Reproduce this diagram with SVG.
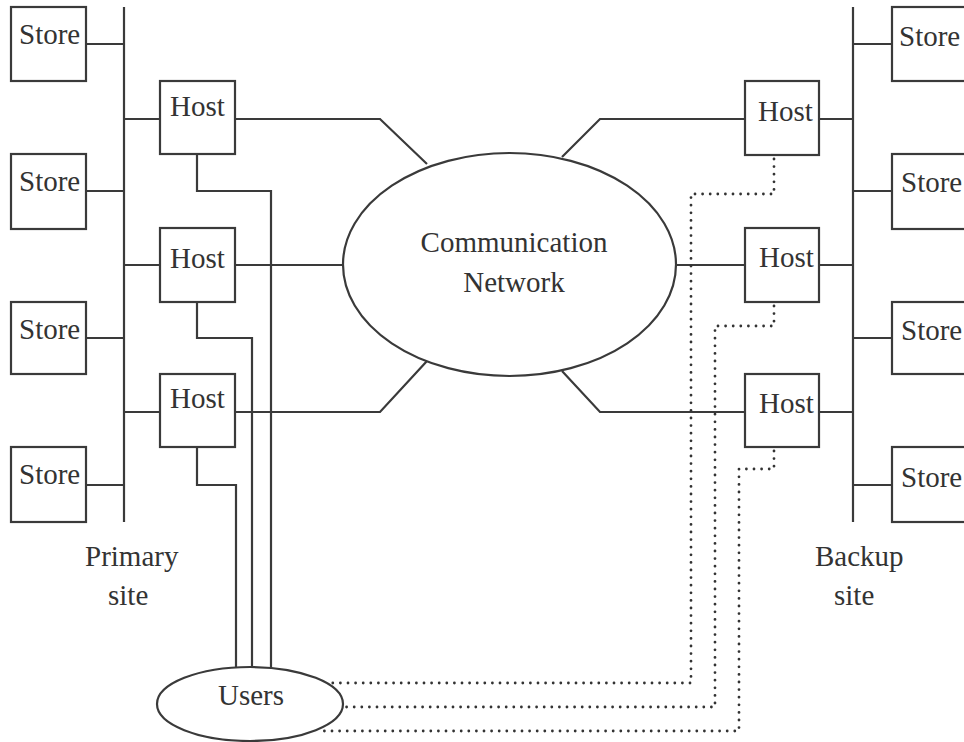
<svg xmlns="http://www.w3.org/2000/svg" width="964" height="742" viewBox="0 0 964 742">
<style>
.box{fill:none;stroke:#3a3a3a;stroke-width:2.2}
.ln{fill:none;stroke:#3a3a3a;stroke-width:2.2}
.dot{fill:none;stroke:#333;stroke-width:2.8;stroke-dasharray:0 7.6;stroke-linecap:round}
text{font-family:"Liberation Serif","Times New Roman",serif;font-size:29px;fill:#333}
</style>
<rect width="964" height="742" fill="#fff"/>
<g id="connectors">
<line class="ln" x1="124" y1="7" x2="124" y2="522"/>
<line class="ln" x1="853" y1="7" x2="853" y2="522"/>
<line class="ln" x1="86" y1="44" x2="124" y2="44"/>
<line class="ln" x1="86" y1="191" x2="124" y2="191"/>
<line class="ln" x1="86" y1="338" x2="124" y2="338"/>
<line class="ln" x1="86" y1="485" x2="124" y2="485"/>
<line class="ln" x1="124" y1="119" x2="160" y2="119"/>
<line class="ln" x1="124" y1="265" x2="160" y2="265"/>
<line class="ln" x1="124" y1="412" x2="160" y2="412"/>
<line class="ln" x1="853" y1="44" x2="892" y2="44"/>
<line class="ln" x1="853" y1="191" x2="892" y2="191"/>
<line class="ln" x1="853" y1="338" x2="892" y2="338"/>
<line class="ln" x1="853" y1="485" x2="892" y2="485"/>
<line class="ln" x1="819" y1="119" x2="853" y2="119"/>
<line class="ln" x1="819" y1="265" x2="853" y2="265"/>
<line class="ln" x1="819" y1="412" x2="853" y2="412"/>
<polyline class="ln" points="235,119 380,119 427,164"/>
<line class="ln" x1="235" y1="265" x2="343" y2="265"/>
<polyline class="ln" points="235,412 380,412 427,361"/>
<polyline class="ln" points="745,119 600,119 562,157"/>
<line class="ln" x1="676" y1="265" x2="745" y2="265"/>
<polyline class="ln" points="745,412 600,412 562,371"/>
<polyline class="ln" points="197,154 197,191 271,191 271,668"/>
<polyline class="ln" points="197,302 197,338 252,338 252,667"/>
<polyline class="ln" points="197,447 197,485 236,485 236,668"/>
<polyline class="dot" points="774,159 774,194 691,194 691,683 327,683"/>
<polyline class="dot" points="774,306 774,326 715,326 715,707 343,707"/>
<polyline class="dot" points="774,451 774,469 739,469 739,731 318,731"/>
</g>
<g id="network">
<ellipse class="box" cx="509.5" cy="264.5" rx="166.5" ry="111.5"/>
<text x="514" y="252" text-anchor="middle">Communication</text>
<text x="514" y="292" text-anchor="middle">Network</text>
</g>
<g id="users">
<ellipse class="box" cx="250" cy="704" rx="93" ry="37"/>
<text x="251" y="705" text-anchor="middle">Users</text>
</g>
<g id="store-p1"><rect class="box" x="11" y="7" width="75" height="74"/><text x="19" y="44">Store</text></g>
<g id="store-p2"><rect class="box" x="11" y="154" width="75" height="75"/><text x="19" y="191">Store</text></g>
<g id="store-p3"><rect class="box" x="11" y="302" width="75" height="72"/><text x="19" y="339">Store</text></g>
<g id="store-p4"><rect class="box" x="11" y="447" width="75" height="75"/><text x="19" y="484">Store</text></g>
<g id="host-p1"><rect class="box" x="160" y="81" width="75" height="73"/><text x="170" y="116">Host</text></g>
<g id="host-p2"><rect class="box" x="160" y="228" width="75" height="74"/><text x="170" y="268">Host</text></g>
<g id="host-p3"><rect class="box" x="160" y="374" width="75" height="73"/><text x="170" y="408">Host</text></g>
<g id="host-b1"><rect class="box" x="745" y="81" width="74" height="74"/><text x="758" y="121">Host</text></g>
<g id="host-b2"><rect class="box" x="745" y="228" width="74" height="74"/><text x="759" y="267">Host</text></g>
<g id="host-b3"><rect class="box" x="745" y="374" width="74" height="73"/><text x="759" y="413">Host</text></g>
<g id="store-b1"><rect class="box" x="892" y="7" width="80" height="74"/><text x="899" y="46">Store</text></g>
<g id="store-b2"><rect class="box" x="892" y="154" width="80" height="75"/><text x="901" y="192">Store</text></g>
<g id="store-b3"><rect class="box" x="892" y="302" width="80" height="72"/><text x="901" y="340">Store</text></g>
<g id="store-b4"><rect class="box" x="892" y="447" width="80" height="75"/><text x="901" y="487">Store</text></g>
<g id="labels">
<text x="85" y="566">Primary</text>
<text x="108" y="605">site</text>
<text x="815" y="566">Backup</text>
<text x="834" y="605">site</text>
</g>
</svg>
